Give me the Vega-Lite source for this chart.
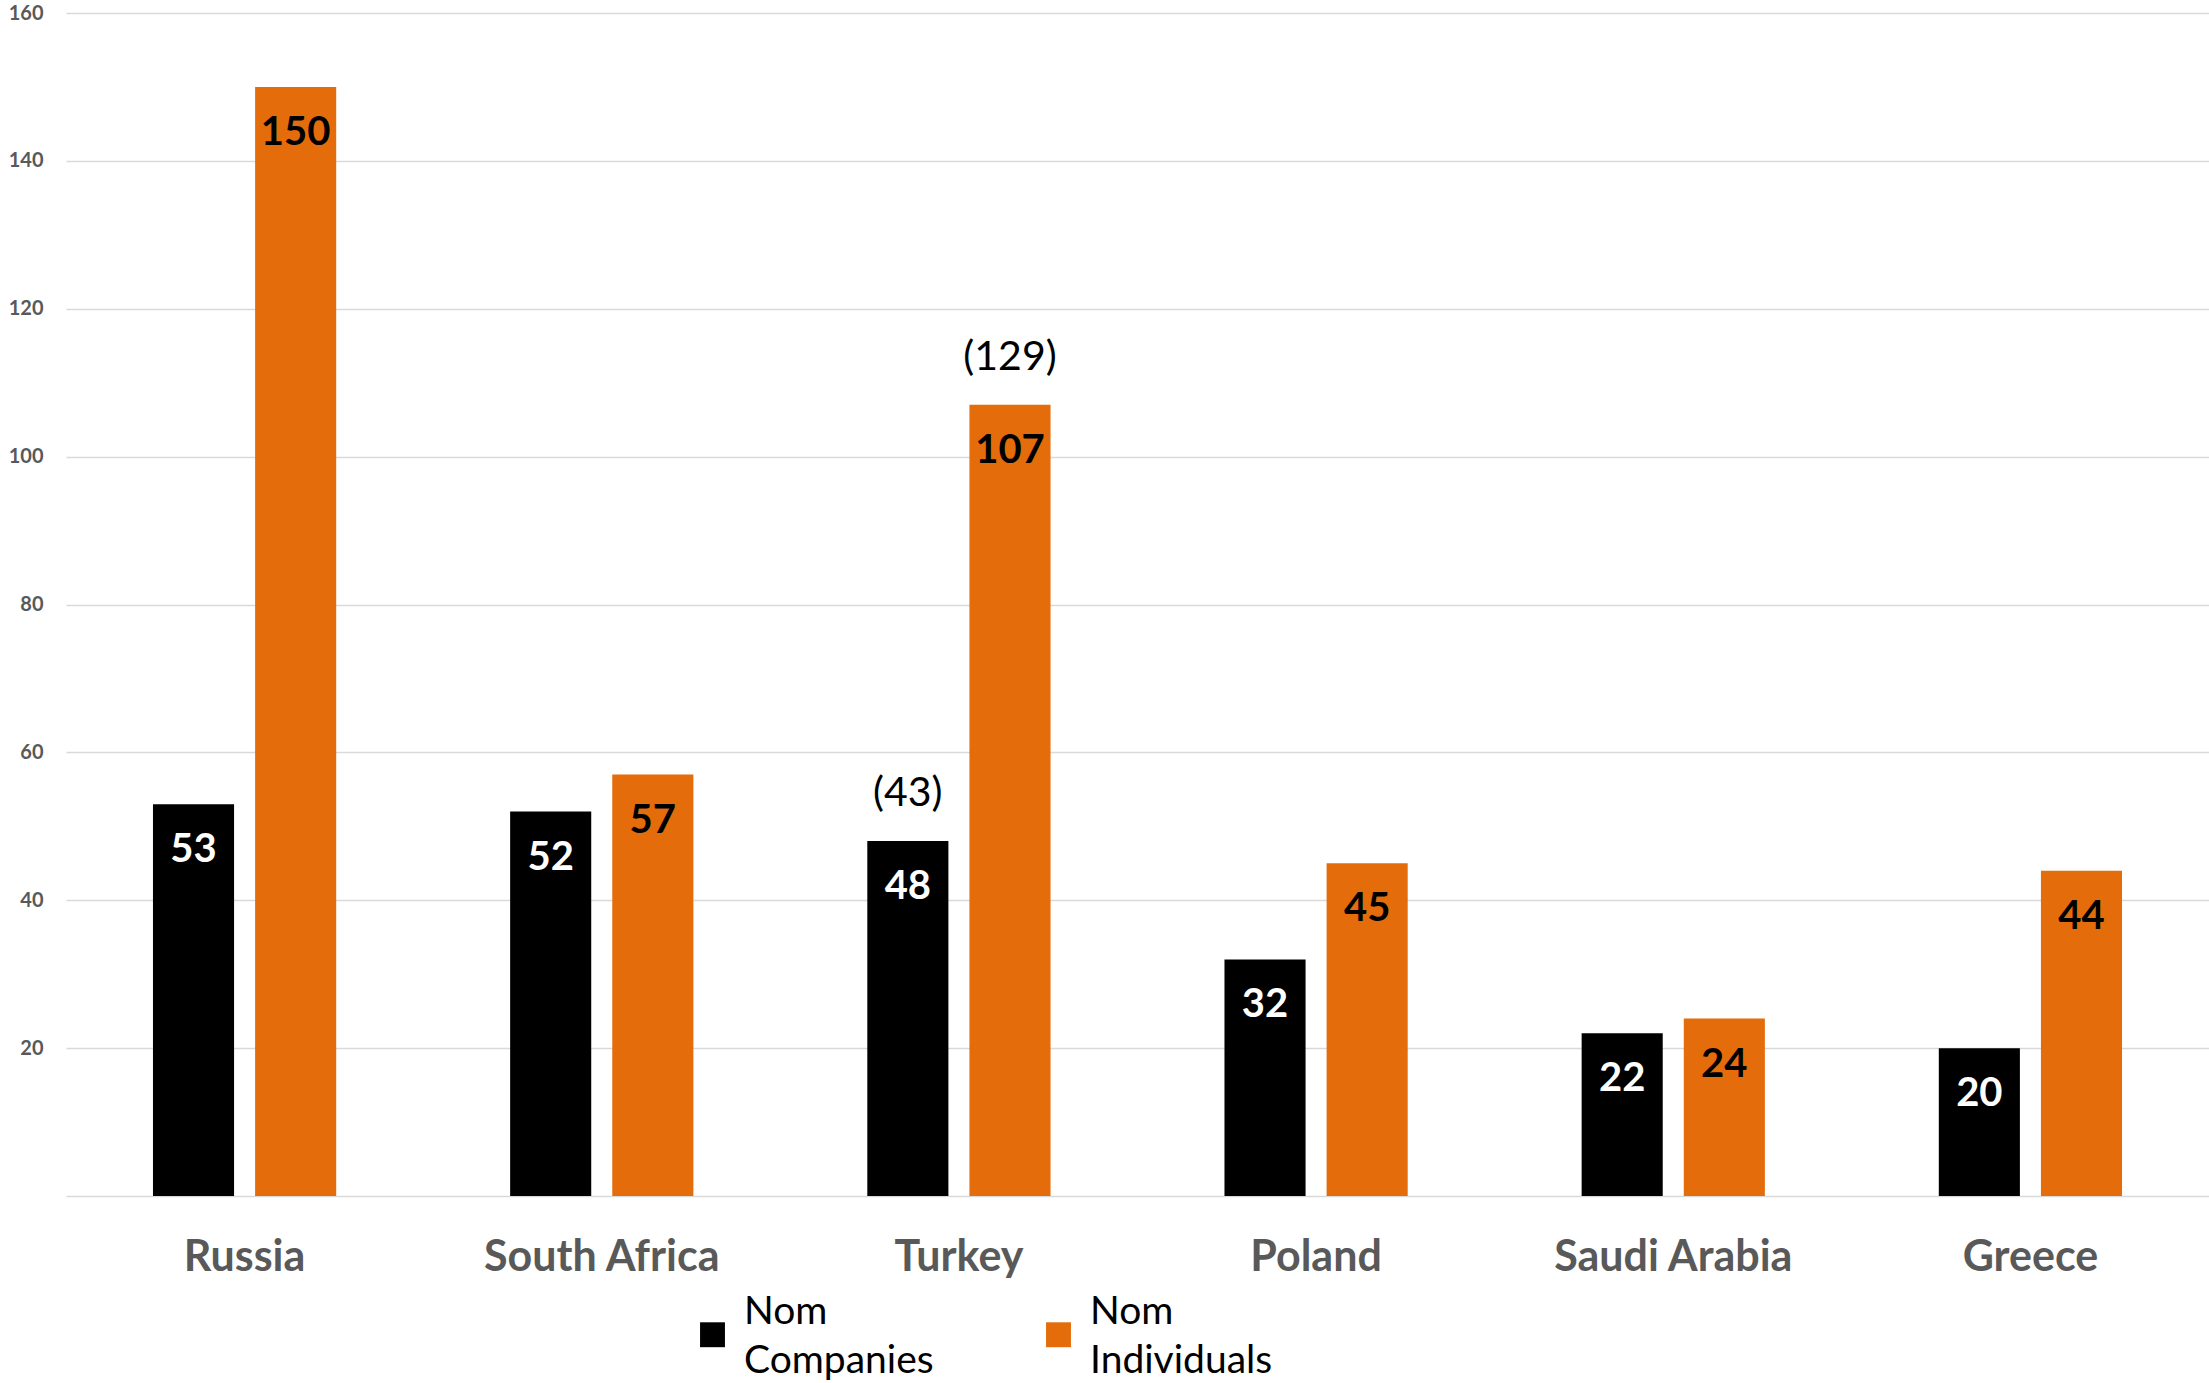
{
  "$schema": "https://vega.github.io/schema/vega-lite/v6.json",
  "autosize": "none",
  "width": 2143,
  "height": 1183,
  "padding": {"left": 66, "top": 13, "right": 0, "bottom": 187},
  "background": "white",
  "config": {"view": {"stroke": null}},
  "data": {
    "values": [
      {"country": "Russia", "series": "Nom Companies", "value": 53, "note": ""},
      {"country": "Russia", "series": "Nom Individuals", "value": 150, "note": ""},
      {"country": "South Africa", "series": "Nom Companies", "value": 52, "note": ""},
      {"country": "South Africa", "series": "Nom Individuals", "value": 57, "note": ""},
      {"country": "Turkey", "series": "Nom Companies", "value": 48, "note": "(43)"},
      {"country": "Turkey", "series": "Nom Individuals", "value": 107, "note": "(129)"},
      {"country": "Poland", "series": "Nom Companies", "value": 32, "note": ""},
      {"country": "Poland", "series": "Nom Individuals", "value": 45, "note": ""},
      {"country": "Saudi Arabia", "series": "Nom Companies", "value": 22, "note": ""},
      {"country": "Saudi Arabia", "series": "Nom Individuals", "value": 24, "note": ""},
      {"country": "Greece", "series": "Nom Companies", "value": 20, "note": ""},
      {"country": "Greece", "series": "Nom Individuals", "value": 44, "note": ""}
    ]
  },
  "encoding": {
    "x": {
      "field": "country",
      "type": "nominal",
      "sort": ["Russia", "South Africa", "Turkey", "Poland", "Saudi Arabia", "Greece"],
      "scale": {"paddingInner": 0.487, "paddingOuter": 0.2435},
      "axis": {
        "title": null,
        "labelAngle": 0,
        "ticks": false,
        "domain": false,
        "labelFont": "Lato",
        "labelFontSize": 43,
        "labelFontWeight": "bold",
        "labelColor": "#595959",
        "labelPadding": 40,
        "labelLimit": 500
      }
    },
    "xOffset": {
      "field": "series",
      "type": "nominal",
      "sort": ["Nom Companies", "Nom Individuals"],
      "scale": {"paddingInner": 0.206, "paddingOuter": 0}
    },
    "y": {
      "field": "value",
      "type": "quantitative",
      "scale": {"domain": [0, 160], "nice": false},
      "axis": {
        "title": null,
        "values": [0, 20, 40, 60, 80, 100, 120, 140, 160],
        "labelExpr": "datum.value == 0 ? '' : datum.label",
        "domain": false,
        "ticks": false,
        "grid": true,
        "gridColor": "#D9D9D9",
        "gridWidth": 1.5,
        "labelFont": "Lato",
        "labelFontSize": 20,
        "labelFontWeight": "bold",
        "labelColor": "#595959",
        "labelPadding": 23
      }
    }
  },
  "layer": [
    {
      "mark": {"type": "bar"},
      "encoding": {
        "color": {
          "field": "series",
          "type": "nominal",
          "scale": {"domain": ["Nom Companies", "Nom Individuals"], "range": ["#000000", "#E46C0A"]},
          "legend": {
            "orient": "none",
            "legendX": 627,
            "legendY": 1302,
            "direction": "horizontal",
            "title": null,
            "symbolType": "square",
            "symbolSize": 620,
            "symbolStrokeWidth": 0,
            "symbolOpacity": 1,
            "labelFont": "Lato",
            "labelFontSize": 39,
            "labelColor": "black",
            "labelExpr": "split(datum.label, ' ')",
            "labelOffset": 12,
            "labelLimit": 500,
            "columnPadding": 105,
            "encode": {"labels": {"update": {"lineHeight": {"value": 49}, "dy": {"value": -23}}}}
          }
        }
      }
    },
    {
      "mark": {"type": "text", "baseline": "alphabetic", "dy": 58, "font": "Lato", "fontSize": 40, "fontWeight": "bold"},
      "encoding": {
        "text": {"field": "value", "type": "quantitative"},
        "color": {"condition": {"test": "datum.series == 'Nom Companies'", "value": "white"}, "value": "black"}
      }
    },
    {
      "mark": {"type": "text", "baseline": "alphabetic", "dy": -35, "font": "Lato", "fontSize": 41, "color": "black"},
      "encoding": {
        "text": {"field": "note", "type": "nominal"}
      }
    }
  ]
}
